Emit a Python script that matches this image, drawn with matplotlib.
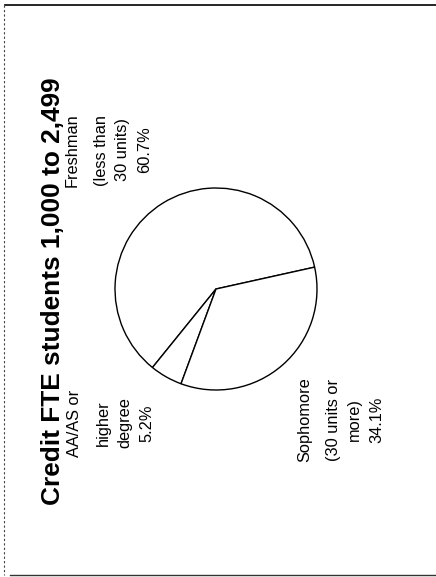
import matplotlib
matplotlib.use("Agg")
import matplotlib.pyplot as plt

# ---- data ----
title = "Credit FTE students 1,000 to 2,499"
categories = ["Freshman\n(less than\n30 units)", "AA/AS or\nhigher\ndegree", "Sophomore\n(30 units or\nmore)"]
values = [60.7, 5.2, 34.1]
value_labels = ["60.7%", "5.2%", "34.1%"]

plt.rcParams['font.family'] = ['Liberation Sans', 'DejaVu Sans']

W, H = 436, 577
fig = plt.figure(figsize=(W / 100, H / 100), dpi=100)
ax = fig.add_axes([0, 0, 1, 1])

def Y(y):
    return H - y

# pie (chart is rotated 90 degrees in the reference)
cx, cy, r = 216, 289, 101
ax.pie(values, radius=r, center=(cx, Y(cy)), startangle=12.5, counterclock=True,
       colors=["white"] * len(values), frame=True,
       wedgeprops=dict(edgecolor="black", linewidth=1.0))

ax.set_xlim(0, W)
ax.set_ylim(0, H)
ax.axis("off")

# title (rotated)
ax.text(60, Y(291), title, rotation=90, rotation_mode="anchor", ha="center",
        va="baseline", fontsize=18.9, fontweight="bold", color="black")

offsets = [0, 29, 50, 72]
label_pos = [(77, 150), (79, 423), (309, 420)]
for cat, val, (bx, by) in zip(categories, value_labels, label_pos):
    lines = cat.split("\n") + [val]
    for off, line in zip(offsets, lines):
        ax.text(bx + off, Y(by), line, rotation=90, rotation_mode="anchor",
                ha="center", va="baseline", fontsize=11.8, color="black")

# scanned frame
ax.plot([5, W], [Y(5), Y(5)], color="black", lw=1.2)
ax.plot([4, 4], [Y(5), Y(575)], color="#444444", lw=0.8, ls=(0, (2, 2)))
ax.plot([10, W], [Y(575), Y(575)], color="#333333", lw=1.0)

fig.savefig("out.png", dpi=100)
